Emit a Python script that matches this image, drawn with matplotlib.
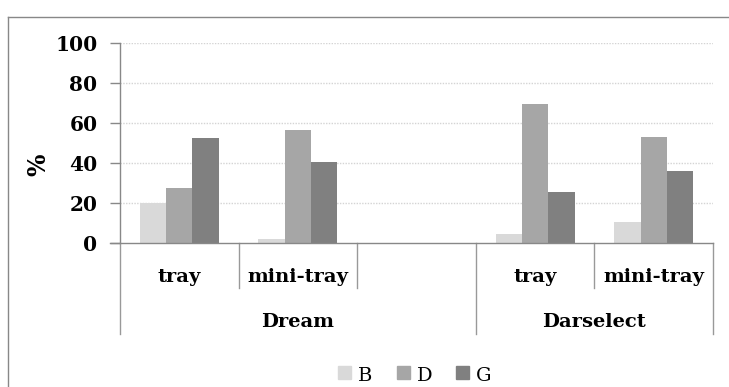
import matplotlib
matplotlib.use("Agg")
import matplotlib.pyplot as plt
from matplotlib.lines import Line2D
from matplotlib.patches import Rectangle
import numpy as np

# ---- data ----
groups = ["Dream", "Darselect"]
group_sizes = [3, 2]
categories = ["tray", "mini-tray", "", "tray", "mini-tray"]
series_names = ["B", "D", "G"]
B_vals = [20, 2, np.nan, 4.6, 10.3]
D_vals = [27.5, 56.7, np.nan, 69.6, 53]
G_vals = [52.5, 40.7, np.nan, 25.5, 35.8]
colors = ["#d9d9d9", "#a6a6a6", "#808080"]
yticks = [0, 20, 40, 60, 80, 100]

W, H = 729, 387
fig = plt.figure(figsize=(W / 100, H / 100), dpi=100)

def fx(px):
    return px / W

def fy(py):
    return 1 - py / H

left, right, top, bot = 120, 713, 43, 243
ax = fig.add_axes([fx(left), fy(bot), fx(right) - fx(left), fy(top) - fy(bot)])

n = len(categories)
x = np.arange(n)
bw = 0.222
for i, (vals, c) in enumerate(zip([B_vals, D_vals, G_vals], colors)):
    ax.bar(x + (i - 1) * bw, vals, width=bw, color=c, edgecolor="none",
           label=series_names[i], zorder=3)

ax.set_xlim(-0.5, n - 0.5)
ax.set_ylim(0, 100)
ax.set_yticks(yticks)
ax.set_yticklabels([str(t) for t in yticks], fontfamily="DejaVu Serif",
                   fontweight="bold", fontsize=14.5)
ax.tick_params(axis="y", length=7.2, width=1, color="#888888", pad=9)
ax.set_xticks([])
for t in yticks[1:]:
    ax.axhline(t, color="#d4d4d4", linestyle=(0, (1, 1)), linewidth=1, zorder=1)

for s in ["top", "right", "bottom"]:
    ax.spines[s].set_visible(False)
ax.spines["left"].set_color("#888888")
ax.spines["left"].set_linewidth(1)
ax.spines["left"].set_zorder(4)

# x axis line extending left to the tick end
fig.add_artist(Line2D([fx(110), fx(right)], [fy(bot), fy(bot)], color="#888888",
                      linewidth=1, transform=fig.transFigure, zorder=5))

# separators
catw = (right - left) / n
bounds_px = [left + k * catw for k in range(n + 1)]
outer = {0}
acc = 0
for gs in group_sizes:
    acc += gs
    outer.add(acc)
for k, bx in enumerate(bounds_px):
    yend = 334 if k in outer else 288
    fig.add_artist(Line2D([fx(bx), fx(bx)], [fy(bot), fy(yend)], color="#999999",
                          linewidth=1, transform=fig.transFigure))

# category labels
for k, lab in enumerate(categories):
    cx = left + (k + 0.5) * catw
    fig.text(fx(cx), fy(282), lab, ha="center", va="baseline",
             fontfamily="DejaVu Serif", fontweight="bold", fontsize=14)
acc = 0
for g, gs in zip(groups, group_sizes):
    cx = left + (acc + gs / 2) * catw
    fig.text(fx(cx), fy(327), g, ha="center", va="baseline",
             fontfamily="DejaVu Serif", fontweight="bold", fontsize=14)
    acc += gs

# y label
fig.text(fx(38), fy(165), "%", rotation=90, ha="center", va="center",
         fontfamily="DejaVu Serif", fontweight="bold", fontsize=17)

# legend
leg_x0 = 338
pitch = 59
for i, (nm, c) in enumerate(zip(series_names, colors)):
    sx = leg_x0 + i * pitch
    fig.add_artist(Rectangle((fx(sx), fy(379)), fx(13), 13 / H, color=c,
                             transform=fig.transFigure))
    fig.text(fx(sx + 20), fy(381), nm, ha="left", va="baseline",
             fontfamily="DejaVu Serif", fontsize=14)

# outer chart border (left & top)
fig.add_artist(Line2D([fx(7.5), fx(7.5)], [fy(16.5), 0], color="#888888",
                      linewidth=1, transform=fig.transFigure))
fig.add_artist(Line2D([fx(7.5), fx(728)], [fy(16.5), fy(16.5)], color="#888888",
                      linewidth=1, transform=fig.transFigure))

fig.savefig("out.png", dpi=100)
